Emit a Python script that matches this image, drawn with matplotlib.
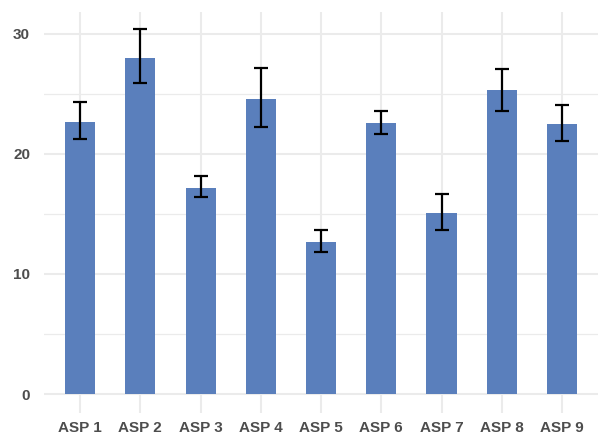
import numpy as np
import matplotlib
matplotlib.use("Agg")
import matplotlib.pyplot as plt

# values
labels = ["ASP 1", "ASP 2", "ASP 3", "ASP 4", "ASP 5", "ASP 6", "ASP 7", "ASP 8", "ASP 9"]
means = [22.7, 28.0, 17.2, 24.6, 12.7, 22.6, 15.1, 25.3, 22.5]
err_low = [21.25, 25.95, 16.4, 22.25, 11.8, 21.65, 13.65, 23.55, 21.1]
err_high = [24.35, 30.4, 18.15, 27.2, 13.65, 23.55, 16.7, 27.05, 24.05]

bar_color = "#5A7FBC"
grid_color = "#EBEBEB"
text_color = "#4D4D4D"

plt.rcParams['font.family'] = ['Liberation Sans', 'DejaVu Sans']

fig = plt.figure(figsize=(6.06, 4.36), dpi=100)
ax = fig.add_axes([0.0726, 0.0528, 0.9144, 0.9197])

x = np.arange(1, len(labels) + 1)
means = np.array(means)
yerr = np.array([means - np.array(err_low), np.array(err_high) - means])

ax.bar(x, means, width=0.5, color=bar_color, zorder=2)
ax.errorbar(x, means, yerr=yerr, fmt="none", ecolor="black", elinewidth=1.6,
            capsize=5, capthick=1.6, zorder=3)

ax.set_xlim(0.4, 9.6)
ax.set_ylim(-1.58, 31.83)
ax.set_xticks(x)
ax.set_xticklabels(labels)
ax.set_yticks([0, 10, 20, 30])
ax.set_yticks([5, 15, 25], minor=True)

ax.grid(which="major", color=grid_color, linewidth=1.5, zorder=0)
ax.grid(which="minor", axis="y", color=grid_color, linewidth=0.9, zorder=0)
ax.set_axisbelow(True)

for s in ax.spines.values():
    s.set_visible(False)
ax.tick_params(which="both", length=0)
ax.tick_params(axis="y", pad=10, labelsize=11, labelcolor=text_color)
ax.tick_params(axis="x", pad=5.5, labelsize=11, labelcolor=text_color)
for t in ax.get_xticklabels() + ax.get_yticklabels():
    t.set_fontweight("bold")

fig.savefig("out.png", dpi=100)
